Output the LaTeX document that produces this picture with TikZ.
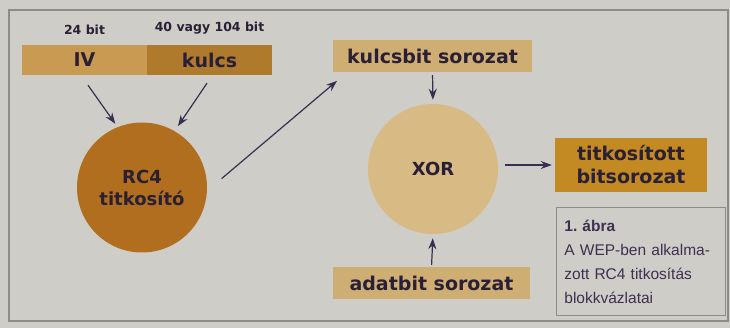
\documentclass[tikz,border=0pt]{standalone}
\usepackage{fontspec}
\setmainfont{DejaVu Sans}
\newfontfamily\capfont{Liberation Sans}
\usepackage[dvipsnames]{xcolor}
\usetikzlibrary{arrows.meta}
\definecolor{bggray}{HTML}{CFCDC8}
\definecolor{framegray}{HTML}{8E8C8A}
\definecolor{ivfill}{HTML}{C99A52}
\definecolor{keyfill}{HTML}{B07A2C}
\definecolor{rcfill}{HTML}{B06E1E}
\definecolor{kbfill}{HTML}{CFAE74}
\definecolor{xorfill}{HTML}{D8BA84}
\definecolor{outfill}{HTML}{C38A24}
\definecolor{ink}{HTML}{2A2035}
\definecolor{arrowcol}{HTML}{35304F}
\definecolor{capink}{HTML}{3D3050}

\begin{document}
\begin{tikzpicture}[x=1pt,y=-1pt,>={Stealth[length=11pt,width=8pt]},
  bar node/.style={rectangle,inner sep=0pt,minimum height=30pt,text=ink,font=\bfseries\fontsize{19}{23}\selectfont},
  round node/.style={circle,inner sep=0pt,minimum size=130pt,text=ink,align=center,font=\bfseries\fontsize{18}{22}\selectfont},
  small label/.style={text=ink,font=\bfseries\fontsize{12.5}{14}\selectfont}]
  % background and frame
  \fill[bggray] (0,0) rectangle (730,328);
  \draw[framegray,line width=1.2pt] (9,10) rectangle (728,321);

  \node[bar node,fill=ivfill,minimum width=125pt] (iv) at (84.5,60) {IV};
  \node[bar node,fill=keyfill,minimum width=125pt] (kulcs) [right of=iv,node distance=125pt] {kulcs};
  \node[small label] (ivbits) [above of=iv,node distance=30pt] {24 bit};
  \node[small label] (keybits) [above of=kulcs,node distance=32pt] {40 vagy 104 bit};
  \node[round node,fill=rcfill] (rc4) at (142,187.5) {RC4\\titkosító};

  \node[bar node,fill=kbfill,minimum width=199pt,minimum height=32pt] (keystream) at (432.5,56) {kulcsbit sorozat};
  \node[round node,fill=xorfill] (xor) at (433,169) {XOR};
  \node[bar node,fill=kbfill,minimum width=197pt,minimum height=32pt] (data) at (431.5,283) {adatbit sorozat};
  \node[bar node,fill=outfill,minimum width=152pt,minimum height=54pt,align=center] (cipher) at (631,165) {titkosított\\bitsorozat};

  \node[draw=framegray,line width=0.8pt,anchor=north west,text width=153pt,minimum height=108pt,
        inner xsep=8pt,align=left,text=capink,font=\capfont\fontsize{15.5}{24}\selectfont] (caption) at (556,207)
        {\textbf{1.\ ábra}\\A WEP-ben alkalma-\\zott RC4 titkosítás\\blokkvázlatai};

  \path[every edge/.style={draw=arrowcol,line width=1.2pt,->}]
    ([shift={(3.5,10)}]iv.south) edge [shorten >=4pt] (rc4.112)
    ([shift={(-2.5,8)}]kulcs.south) edge [shorten >=6pt] (rc4.60)
    (rc4.-3) edge [shorten <=19pt,shorten >=1pt] ([shift={(5,8)}]keystream.south west)
    (keystream.south) edge [shorten <=3pt,shorten >=4pt] (xor.north)
    (data.north) edge [shorten <=2pt,shorten >=4pt] (xor.south)
    ([yshift=4pt]xor.east) edge [shorten <=7pt,shorten >=3pt] ([yshift=4pt]xor.east -| cipher.west)
    ;
\end{tikzpicture}
\end{document}
